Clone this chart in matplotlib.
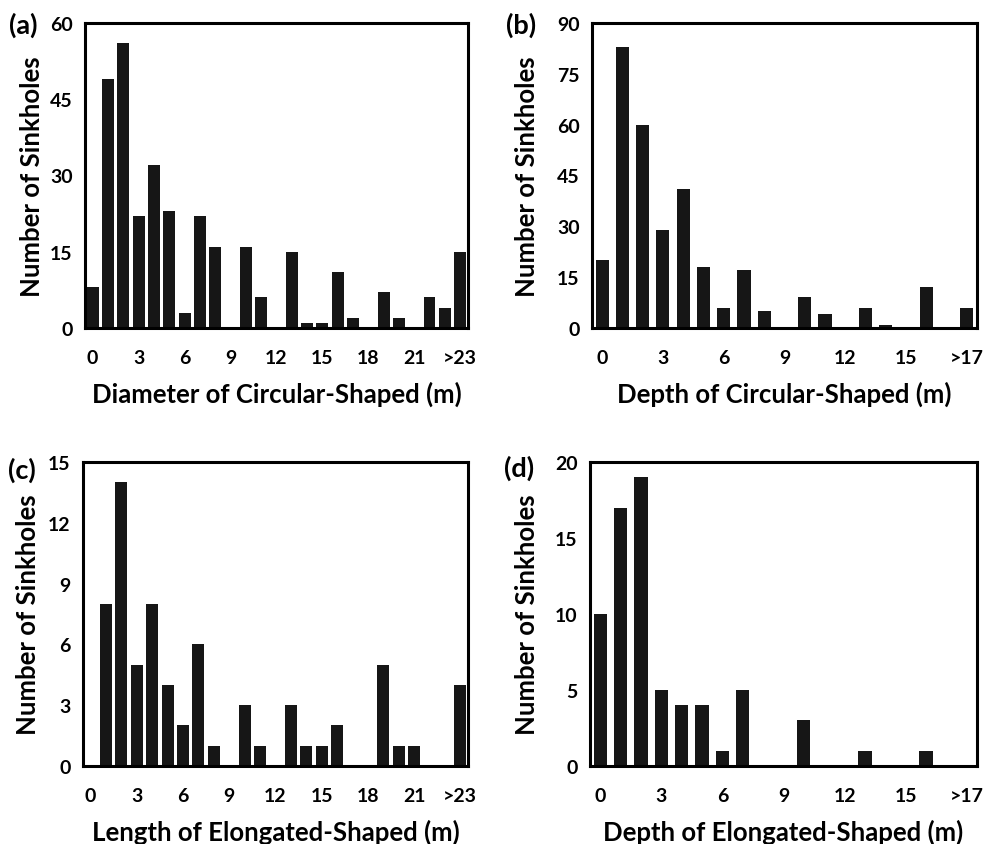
import numpy as np
import matplotlib
matplotlib.use("Agg")
import matplotlib.pyplot as plt

plt.rcParams['font.family'] = ['Lato', 'DejaVu Sans']
plt.rcParams['font.weight'] = 'bold'

# x categories (bins, in m)
labels_23 = ['0', '3', '6', '9', '12', '15', '18', '21', '>23']
labels_17 = ['0', '3', '6', '9', '12', '15', '>17']

# (a) diameter of circular-shaped sinkholes, bins 0 .. >23
diam_circ = [8, 49, 56, 22, 32, 23, 3, 22, 16, 0, 16, 6, 0, 15, 1, 1, 11, 2, 0, 7, 2, 0, 6, 4, 15]
# (b) depth of circular-shaped sinkholes, bins 0 .. >17
depth_circ = [20, 83, 60, 29, 41, 18, 6, 17, 5, 0, 9, 4, 0, 6, 1, 0, 12, 0, 6]
# (c) length of elongated-shaped sinkholes, bins 0 .. >23
len_elong = [0, 8, 14, 5, 8, 4, 2, 6, 1, 0, 3, 1, 0, 3, 1, 1, 2, 0, 0, 5, 1, 1, 0, 0, 4]
# (d) depth of elongated-shaped sinkholes, bins 0 .. >17
depth_elong = [10, 17, 19, 5, 4, 4, 1, 5, 0, 0, 3, 0, 0, 1, 0, 0, 1, 0, 0]

fig = plt.figure(figsize=(9.84, 8.45), dpi=100)

panels = [
    # rect, data, xlabels, yticks, width, xlabel, tag, ylabel x, tag pos
    ([0.0864, 0.6107, 0.389, 0.361], diam_circ, labels_23, [0, 15, 30, 45, 60], 0.78,
     'Diameter of Circular-Shaped (m)', '(a)', -0.138, (0.024, 0.970)),
    ([0.6016, 0.6107, 0.3913, 0.361], depth_circ, labels_17, [0, 15, 30, 45, 60, 75, 90], 0.65,
     'Depth of Circular-Shaped (m)', '(b)', -0.169, (0.530, 0.970)),
    ([0.0843, 0.0923, 0.3913, 0.3598], len_elong, labels_23, [0, 3, 6, 9, 12, 15], 0.78,
     'Length of Elongated-Shaped (m)', '(c)', -0.143, (0.022, 0.443)),
    ([0.5996, 0.0923, 0.3933, 0.3598], depth_elong, labels_17, [0, 5, 10, 15, 20], 0.65,
     'Depth of Elongated-Shaped (m)', '(d)', -0.164, (0.528, 0.446)),
]

for rect, vals, xlabs, yt, w, xlab, tag, ylx, tpos in panels:
    ax = fig.add_axes(rect)
    x = np.arange(len(vals))
    ax.bar(x, vals, width=w, color='#161616')
    ax.set_xlim(-0.5, len(vals) - 0.5)
    ax.set_ylim(0, yt[-1])
    ax.set_xticks(np.arange(0, len(vals), 3))
    ax.set_xticklabels(xlabs)
    ax.set_yticks(yt)
    ax.tick_params(length=0, labelsize=14, pad=9)
    ax.tick_params(axis='x', pad=15)
    for s in ax.spines.values():
        s.set_linewidth(2.2)
    ax.text(0.5, -0.215, xlab, transform=ax.transAxes, ha='center', va='center', fontsize=18.5)
    ax.text(ylx, 0.5, 'Number of Sinkholes', transform=ax.transAxes, ha='center', va='center',
            rotation=90, fontsize=18.5)
    fig.text(tpos[0], tpos[1], tag, ha='center', va='center', fontsize=19.5)

fig.savefig('out.png', dpi=100)
